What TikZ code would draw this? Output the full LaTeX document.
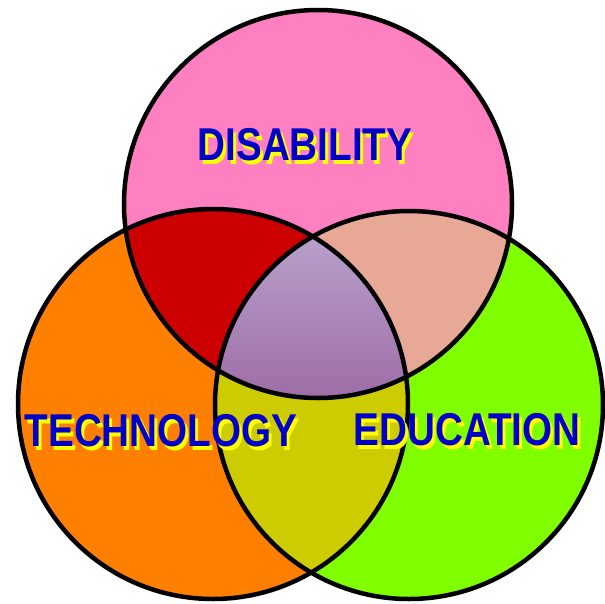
\documentclass[tikz,border=0pt]{standalone}
\usepackage{fontspec}
\setmainfont{Liberation Sans}
\usetikzlibrary{calc}

\definecolor{dispink}{RGB}{255,128,192}
\definecolor{techorange}{RGB}{255,128,0}
\definecolor{edugreen}{RGB}{128,255,0}
\definecolor{distechred}{RGB}{204,0,0}
\definecolor{disedusalmon}{RGB}{232,168,150}
\definecolor{techeduolive}{RGB}{204,204,0}
\definecolor{coretop}{RGB}{184,162,204}
\definecolor{corebottom}{RGB}{158,108,166}
\definecolor{labelblue}{RGB}{0,0,200}
\definecolor{shadowyellow}{RGB}{255,255,0}

\tikzset{
  ring/.style={draw=black, line width=4.5pt},
  venntext/.style={font=\fontsize{46}{46}\selectfont\bfseries, inner sep=0pt,
    xscale=.84, transform shape}
}

\newcommand\vennlabel[3]{%
  \node[venntext, text=shadowyellow] (#1shadow) at ($(#2)+(3,4)$) {#3};
  \node[venntext, text=labelblue] (#1) at (#2) {#3};}

\begin{document}
\begin{tikzpicture}[x=1pt, y=-1pt]
\useasboundingbox (0,0) rectangle (605,603);
\coordinate (dis) at (318,204);
\coordinate (tech) at (213,404);
\coordinate (edu) at (409,405);
\fill[dispink] (dis) circle (194);
\fill[techorange] (tech) circle (195);
\fill[edugreen] (edu) circle (194);
\begin{scope}
  \clip (dis) circle (194);
  \fill[distechred] (tech) circle (195);
  \fill[disedusalmon] (edu) circle (194);
\end{scope}
\begin{scope}
  \clip (tech) circle (195);
  \fill[techeduolive] (edu) circle (194);
\end{scope}
\begin{scope}
  \clip (dis) circle (194);
  \clip (tech) circle (195);
  \clip (edu) circle (194);
  \shade[top color=coretop, bottom color=corebottom] (200,230) rectangle (420,400);
\end{scope}
\draw[ring] (dis) circle (194);
\draw[ring] (tech) circle (195);
\draw[ring] (edu) circle (194);
\vennlabel{disability}{305,145}{DISABILITY}
\vennlabel{technology}{161,431}{TECHNOLOGY}
\vennlabel{education}{467,430}{EDUCATION}
\end{tikzpicture}
\end{document}
